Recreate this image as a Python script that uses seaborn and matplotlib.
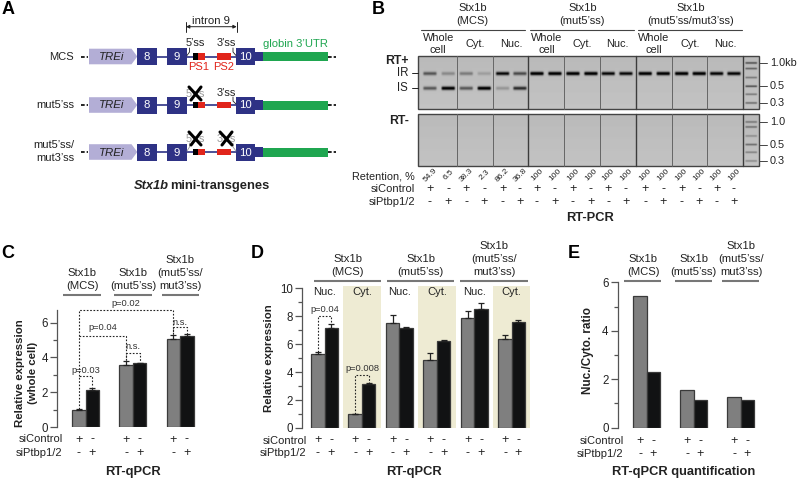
import matplotlib
matplotlib.use('Agg')
import matplotlib.pyplot as plt
from matplotlib.patches import Polygon, Rectangle
from matplotlib.transforms import blended_transform_factory
import numpy as np
import pandas as pd
import seaborn as sns

W, H = 797, 480

# bar data
c_groups = ['MCS', "mut5'ss", "mut5'ss/mut3'ss"]
c_control = [1.0, 3.55, 5.05]
c_ptbp = [2.15, 3.65, 5.22]
c_control_err = [0.04, 0.25, 0.22]
c_ptbp_err = [0.1, 0.05, 0.1]

d_groups = ['MCS Nuc', 'MCS Cyt', 'mut5 Nuc', 'mut5 Cyt', 'mut53 Nuc', 'mut53 Cyt']
d_control = [5.3, 0.97, 7.55, 4.9, 7.9, 6.4]
d_ptbp = [7.15, 3.13, 7.15, 6.25, 8.55, 7.62]
d_control_err = [0.15, 0.04, 0.55, 0.45, 0.45, 0.28]
d_ptbp_err = [0.3, 0.12, 0.08, 0.03, 0.4, 0.12]

e_groups = ['MCS', "mut5'ss", "mut5'ss/mut3'ss"]
e_control = [5.45, 1.54, 1.26]
e_ptbp = [2.28, 1.16, 1.15]

# gel data
retention = ['54.9', '6.5', '38.3', '2.3', '86.2', '36.8'] + ['100'] * 12
ir_band = [.5, .25, .32, .15, .88, .55, 1, 1, 1, 1, .88, .88, 1, 1, 1, 1, .92, .92]
is_band = [.5, 1, .5, 1, .2, .72, 0, 0, 0, 0, 0, 0, 0, 0, 0, 0, 0, 0]
ladder_strength = [.75, .65, .5, .8, .5, .6]
ladder_strength_neg = [.5, .55, .35, .6, .45, .4]
control_signs = ['+', '-']
ptbp_signs = ['-', '+']

sns.set_theme(style='ticks')
plt.rcParams.update({'font.family': ['Liberation Sans', 'DejaVu Sans'],
                     'font.size': 8,
                     'text.color': '#222222',
                     'axes.linewidth': 0.9,
                     'axes.edgecolor': '#555555'})

fig = plt.figure(figsize=(W / 100, H / 100), dpi=100, facecolor='white')

# overlay in pixel coordinates for the schematic and all the labels
ov = fig.add_axes([0, 0, 1, 1], zorder=5)
ov.set_xlim(0, W)
ov.set_ylim(H, 0)
ov.axis('off')
ov.patch.set_alpha(0)
ov.set_autoscale_on(False)


def label(x, y, s, size=8, ha='center', **kw):
    ov.text(x, y, s, fontsize=size, ha=ha, va='center', **kw)


def bar_panel(groups, control, ptbp, left, right, bottom, top, ymax, c0, spacing, width):
    ax = fig.add_axes([left / W, 1 - bottom / H, (right - left) / W, (bottom - top) / H])
    df = pd.DataFrame({'group': list(groups) * 2,
                       'value': list(control) + list(ptbp),
                       'treat': ['siControl'] * len(groups) + ['siPtbp'] * len(groups)})
    sns.barplot(data=df, x='group', y='value', hue='treat', order=list(groups),
                palette=['#7f7f7f', '#111213'], width=width, gap=0, errorbar=None,
                edgecolor='#3a3a3a', linewidth=0.9, legend=False, ax=ax)
    ax.set_xlim((left - c0) / spacing, (right - c0) / spacing)
    ax.set_ylim(0, ymax)
    ax.set_xlabel('')
    ax.set_ylabel('')
    ax.set_xticks([])
    sns.despine(ax=ax, bottom=True)
    ax.spines['bottom'].set_visible(False)
    ax.patch.set_alpha(0)
    ax.tick_params(axis='y', which='major', length=5, width=0.9, color='#555555',
                   labelsize=8.3, pad=1.5, labelcolor='#222222')
    ax.tick_params(axis='y', which='minor', left=True, length=3, width=0.9, color='#555555')
    return ax


def bar_centers(ax):
    return ([b.get_x() + b.get_width() / 2 for b in ax.containers[0]],
            [b.get_x() + b.get_width() / 2 for b in ax.containers[1]])


def add_errors(ax, control_err, ptbp_err):
    for cont, errs in zip(ax.containers, (control_err, ptbp_err)):
        for b, e in zip(cont, errs):
            xc = b.get_x() + b.get_width() / 2
            ax.errorbar(xc, b.get_height(), yerr=[[0], [e]], color='#222222',
                        elinewidth=0.9, capsize=2.5, capthick=0.9, clip_on=False)


def bracket(ax, x1, y1, x2, y2, ytop):
    ax.plot([x1, x1, x2, x2], [y1, ytop, ytop, y2], color='#222222', lw=0.8,
            linestyle=(0, (1.5, 1.5)), clip_on=False, zorder=4)


def sign_rows(ax, y_ctrl, y_ptbp, label_x):
    tr = blended_transform_factory(ax.transData, ov.transData)
    xa, xb = bar_centers(ax)
    for x1, x2 in zip(xa, xb):
        ax.text(x1, y_ctrl, control_signs[0], transform=tr, fontsize=9, ha='center', va='center')
        ax.text(x2, y_ctrl, control_signs[1], transform=tr, fontsize=9, ha='center', va='center')
        ax.text(x1, y_ptbp, ptbp_signs[0], transform=tr, fontsize=9, ha='center', va='center')
        ax.text(x2, y_ptbp, ptbp_signs[1], transform=tr, fontsize=9, ha='center', va='center')
    label(label_x, y_ctrl, 'siControl', ha='right')
    label(label_x, y_ptbp, 'siPtbp1/2', ha='right')


def header(x0, x1, y_line, lines, xc=None):
    ov.plot([x0, x1], [y_line, y_line], color='#777777', lw=1.5, solid_capstyle='butt')
    xc = (x0 + x1) / 2 if xc is None else xc
    for i, s in enumerate(reversed(lines)):
        label(xc, y_line - 9 - i * 12.8, s, size=8.1)


# panel C
ax_c = bar_panel(c_groups, c_control, c_ptbp, 57, 200, 427, 310.4, 6.7, 85.7, 47.2, 0.57)
ax_c.set_yticks([0, 2, 4, 6])
ax_c.set_yticks([1, 3, 5], minor=True)
add_errors(ax_c, c_control_err, c_ptbp_err)
ca, cb = bar_centers(ax_c)
bracket(ax_c, ca[0], 1.05, cb[0], 2.3, 2.92)
bracket(ax_c, ca[0], 2.92, ca[1], 3.87, 5.25)
bracket(ax_c, ca[0], 5.25, ca[2], 5.32, 6.7)
bracket(ax_c, ca[1], 3.87, cb[1], 3.72, 4.28)
bracket(ax_c, ca[2], 5.32, cb[2], 5.35, 5.75)
for x, y, s in [((ca[0] + cb[0]) / 2, 3.26, 'p=0.03'), (ca[0] + 0.5, 5.72, 'p=0.04'),
                (ca[1], 7.1, 'p=0.02'), ((ca[1] + cb[1]) / 2, 4.6, 'n.s.'),
                ((ca[2] + cb[2]) / 2, 6.02, 'n.s.')]:
    ax_c.text(x, y, s, fontsize=6.7, ha='center', va='center', color='#333333')
sign_rows(ax_c, 439.5, 452.7, 62.7)
header(63.3, 100.7, 295, ['Stx1b', '(MCS)'], 82.3)
header(114.3, 151.7, 295, ['Stx1b', "(mut5’ss)"], 133)
header(161.7, 199, 295, ['Stx1b', "(mut5’ss/", "mut3’ss)"], 180)
label(133, 471.7, 'RT-qPCR', size=9.3, fontweight='bold')
label(20, 373, 'Relative expression', size=8.2, rotation=90, fontweight='bold')
label(33, 373, '(whole cell)', size=8.2, rotation=90, fontweight='bold')

# panel D
ax_d = bar_panel(d_groups, d_control, d_ptbp, 302, 532, 428, 288.3, 10, 324.5, 37.45, 0.72)
ax_d.set_yticks([0, 2, 4, 6, 8, 10])
ax_d.set_yticks([1, 3, 5, 7, 9], minor=True)
for i in (1, 3, 5):
    ax_d.add_patch(Rectangle((i - 0.5, 0), 1.0, 10.2, facecolor='#eeebd3', edgecolor='none',
                             zorder=0, clip_on=False))
add_errors(ax_d, d_control_err, d_ptbp_err)
da, db = bar_centers(ax_d)
bracket(ax_d, da[0], 5.45, db[0], 7.45, 8.04)
bracket(ax_d, da[1], 1.0, db[1], 3.25, 3.82)
ax_d.text((da[0] + db[0]) / 2, 8.45, 'p=0.04', fontsize=6.7, ha='center', va='center', color='#333333')
ax_d.text((da[1] + db[1]) / 2, 4.25, 'p=0.008', fontsize=6.7, ha='center', va='center', color='#333333')
for i, s in enumerate(['Nuc.', 'Cyt.'] * 3):
    ax_d.text(i, 9.74, s, fontsize=8, ha='center', va='center')
sign_rows(ax_d, 440.5, 453.2, 306.7)
header(314, 381, 280.7, ['Stx1b', '(MCS)'])
header(387, 454.3, 280.7, ['Stx1b', "(mut5’ss)"])
header(460.3, 527.7, 280.7, ['Stx1b', "(mut5’ss/", "mut3’ss)"])
label(414, 471.7, 'RT-qPCR', size=9.3, fontweight='bold')
label(269.3, 357.7, 'Relative expression', size=8.2, rotation=90, fontweight='bold')

# panel E
ax_e = bar_panel(e_groups, e_control, e_ptbp, 617.7, 760, 427.7, 282.3, 6, 646.7, 47, 0.57)
ax_e.set_yticks([0, 2, 4, 6])
ax_e.set_yticks([1, 3, 5], minor=True)
sign_rows(ax_e, 441, 454.3, 623.7)
header(624, 661, 280.7, ['Stx1b', '(MCS)'], 643.3)
header(675.3, 712, 280.7, ['Stx1b', "(mut5’ss)"], 693.7)
header(722.3, 759, 280.7, ['Stx1b', "(mut5’ss/", "mut3’ss)"], 741)
label(683.3, 471.7, 'RT-qPCR quantification', size=9.3, fontweight='bold')
label(588, 351, 'Nuc./Cyto. ratio', size=8.5, rotation=90, fontweight='bold')

# panel letters
for x, y, s in [(8, 10, 'A'), (378, 9, 'B'), (8, 254, 'C'), (257, 254, 'D'), (574, 254, 'E')]:
    label(x, y, s, size=13, fontweight='bold', color='black')

# panel A
navy = '#2e3285'
red = '#e1251b'
rows = [56.5, 105, 152]
row_names = [['MCS'], ["mut5’ss"], ["mut5’ss/", "mut3’ss"]]
for yc, names in zip(rows, row_names):
    ov.plot([81, 88], [yc, yc], color='black', lw=1.2, linestyle=(0, (2.2, 1.2)))
    ov.plot([328, 336], [yc, yc], color='black', lw=1.2, linestyle=(0, (2.2, 1.2)))
    ov.plot([156, 240], [yc, yc], color=navy, lw=1.2, zorder=1)
    ov.add_patch(Polygon([(89, yc - 7.8), (131.5, yc - 7.8), (137.3, yc), (131.5, yc + 7.8), (89, yc + 7.8)],
                         facecolor='#b3aed6', edgecolor='none'))
    label(112, yc + 0.5, 'TREi', size=8.2, style='italic')
    for x0, x1, s in [(137.3, 156.7, '8'), (167.3, 186.7, '9'), (236, 255, '10')]:
        ov.add_patch(Rectangle((x0, yc - 8.5), x1 - x0, 17, facecolor=navy, edgecolor='none', zorder=2))
        label((x0 + x1) / 2, yc + 0.5, s, size=8.2, color='white', zorder=3)
    ov.add_patch(Rectangle((254, yc - 4.7), 9, 9.4, facecolor=navy, edgecolor='none', zorder=2))
    ov.add_patch(Rectangle((263, yc - 4.5), 65, 9, facecolor='#1fa650', edgecolor='none', zorder=2))
    ov.add_patch(Rectangle((193, yc - 3.2), 5.5, 6.4, facecolor='black', edgecolor='none', zorder=2))
    ov.add_patch(Rectangle((198.5, yc - 3.2), 6.2, 6.4, facecolor=red, edgecolor='none', zorder=2))
    ov.add_patch(Rectangle((217, yc - 3.2), 13.7, 6.4, facecolor=red, edgecolor='none', zorder=2))
    for i, s in enumerate(names):
        label(74, yc + 0.5 - 6.5 * (len(names) - 1) + 13 * i - (1 if len(names) > 1 else 0), s, size=8, ha='right')

ov.annotate('', xy=(186, 26.7), xytext=(236.7, 26.7),
            arrowprops=dict(arrowstyle='<|-|>', color='#222222', lw=0.7, mutation_scale=5,
                            shrinkA=0, shrinkB=0))
ov.plot([186, 186], [22, 32], color='#222222', lw=0.7)
ov.plot([236.7, 236.7], [22, 32], color='#222222', lw=0.7)
label(211, 21.5, 'intron 9', size=8.2)
label(296, 44, 'globin 3’UTR', size=8.1, color='#1fa650')
label(199, 67.5, 'PS1', size=8, color=red)
label(224, 67.5, 'PS2', size=8, color=red)
label(195, 43, '5’ss', size=7.9)
label(226, 43, '3’ss', size=7.9)
ov.plot([189.5, 189.5, 187], [48, 52, 55.5], color='#222222', lw=0.6)
ov.plot([233, 233, 236], [48, 52, 55.5], color='#222222', lw=0.6)
label(226, 92.5, '3’ss', size=7.9)
ov.plot([233, 233, 236], [97, 101, 104], color='#222222', lw=0.6)
for x, y, s in [(195, 94, '5’ss'), (195, 139, '5’ss'), (226, 139, '3’ss')]:
    label(x, y, s, size=7.9, color='#999999')
    ov.plot([x - 6, x + 6], [y - 7, y + 6], color='black', lw=2.2, zorder=4)
    ov.plot([x - 4, x + 6], [y + 6, y - 7], color='black', lw=2.2, zorder=4)
ov.plot([189.5, 189.5, 187], [143, 147, 151], color='#999999', lw=0.6)
ov.plot([233, 233, 236], [143, 147, 151], color='#999999', lw=0.6)
ov.text(134, 186, 'Stx1b', fontsize=9.3, fontweight='bold', style='italic', va='center')
ov.text(170, 186, 'mini-transgenes', fontsize=9.3, fontweight='bold', va='center')

# panel B gels
lane_x = [430, 448.3, 466.3, 484.3, 502.7, 520, 537, 555, 573, 591, 608.3, 626,
          645.3, 663.3, 681.7, 699.3, 716.7, 734]
lane_edges = [456.7, 492.7, 564, 599.7, 672, 707.3]
group_edges = [528.3, 635.7, 743]
gel_left, gel_right = 418.3, 759


def draw_gel(y0, y1, bands, ladder_y, ladder_s):
    xs = np.arange(gel_left, gel_right, 0.5)
    ys = np.arange(y0, y1, 0.5)
    xx, yy = np.meshgrid(xs, ys)
    img = np.full(xx.shape, 0.73) + 0.035 * (yy - y0) / (y1 - y0)
    for bx, by, strength in bands:
        prof = np.clip((7.5 - np.abs(xx - bx)) / 2.0, 0, 1)
        img -= strength * 0.85 * prof * np.exp(-((yy - by) / 1.7) ** 2)
    for by, strength in zip(ladder_y, ladder_s):
        prof = np.clip((6.5 - np.abs(xx - 751.3)) / 1.5, 0, 1)
        img -= strength * 0.6 * prof * np.exp(-((yy - by) / 0.9) ** 2)
    ov.imshow(np.clip(img, 0, 1), extent=(gel_left, gel_right, y1, y0), cmap='gray', vmin=0, vmax=1,
              aspect='auto', interpolation='bilinear', zorder=1)
    ov.add_patch(Rectangle((gel_left, y0), gel_right - gel_left, y1 - y0, fill=False,
                           edgecolor='#444444', lw=1, zorder=2))
    for x in lane_edges:
        ov.plot([x, x], [y0, y1], color='#666666', lw=0.7, zorder=2)
    for x in group_edges:
        ov.plot([x, x], [y0, y1], color='#3c3c3c', lw=1, zorder=2)
    ov.set_xlim(0, W)
    ov.set_ylim(H, 0)


plus_bands = [(x, 73.3, s) for x, s in zip(lane_x, ir_band)] + \
             [(x, 88, s) for x, s in zip(lane_x, is_band) if s > 0]
draw_gel(56, 109, plus_bands, [62.7, 68.3, 77.3, 86, 94, 102.7], ladder_strength)
draw_gel(114, 166, [], [121.7, 126.7, 135.7, 144.3, 152, 160.7], ladder_strength_neg)

for xl, xr, xc, lines in [(421, 525, 472.7, ['Stx1b', '(MCS)']),
                          (530, 634, 582.3, ['Stx1b', "(mut5’ss)"]),
                          (637.7, 742.3, 690.7, ['Stx1b', "(mut5’ss/mut3’ss)"])]:
    ov.plot([xl, xr], [30, 30], color='#444444', lw=0.8)
    label(xc, 8.3, lines[0], size=8)
    label(xc, 21, lines[1], size=8)
for xw, xc, xn in [(438.3, 475, 511.7), (546.7, 582.3, 617.7), (654, 690.7, 725)]:
    label(xw, 37.7, 'Whole', size=7.9)
    label(xw, 50, 'cell', size=7.9)
    label(xc, 44.3, 'Cyt.', size=7.9)
    label(xn, 44.3, 'Nuc.', size=7.9)

label(396.7, 61, 'RT+', size=8.8, fontweight='bold')
label(399, 121, 'RT-', size=8.8, fontweight='bold')
label(402.7, 73.3, 'IR', size=8.3)
label(402.7, 88, 'IS', size=8.3)
ov.plot([412, 418], [73.3, 73.3], color='#222222', lw=0.7)
ov.plot([412, 418], [88, 88], color='#222222', lw=0.7)
for y, s in [(62.7, '1.0kb'), (86, '0.5'), (103.3, '0.3'), (122, '1.0'), (144.7, '0.5'), (160.7, '0.3')]:
    ov.plot([759, 767], [y, y], color='#444444', lw=0.7)
    label(770, y, s, size=7.8, ha='left')

label(415, 176.7, 'Retention, %', size=7.8, ha='right')
label(415, 189, 'siControl', size=8, ha='right')
label(415, 202.3, 'siPtbp1/2', size=8, ha='right')
for i, (x, r) in enumerate(zip(lane_x, retention)):
    label(x, 175, r, size=6, rotation=45)
    label(x, 189, control_signs[i % 2], size=9)
    label(x, 202.3, ptbp_signs[i % 2], size=9)
label(590, 217.7, 'RT-PCR', size=9.3, fontweight='bold')

fig.savefig('out.png', dpi=100)
